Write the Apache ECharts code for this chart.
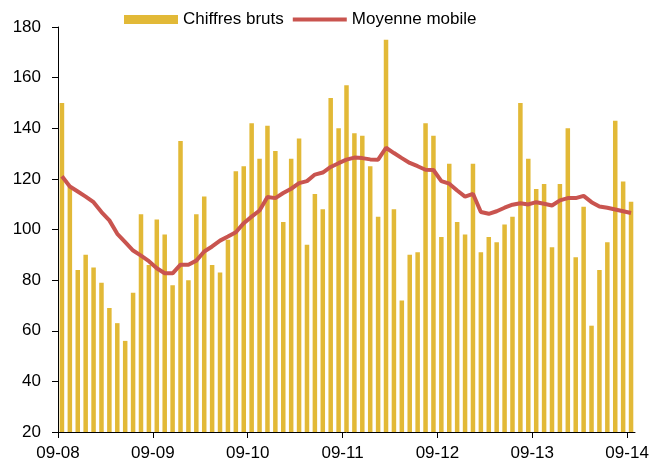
<!DOCTYPE html>
<html>
<head>
<meta charset="utf-8">
<script src="https://cdn.jsdelivr.net/npm/echarts@6/dist/echarts.min.js"></script>
<style>
html,body{margin:0;padding:0;background:#fff;}
#chart{width:657px;height:465px;}
</style>
</head>
<body>
<div id="chart"></div>
<script>
// Monthly raw values, Sept 2008 -> Sept 2014
var rawValues = [150,117,84,90,85,79,69,63,56,75,106,86,
  104,98,78,135,80,106,113,86,83,96,123,125,
  142,128,141,131,103,128,136,94,114,108,152,140,
  157,138,137,125,105,175,108,72,90,91,142,137,
  97,126,103,98,126,91,97,95,102,105,150,128,
  116,118,93,118,140,89,109,62,84,95,143,119,111];
var movingAvg = [121,117,115,113,110.8,106.9,103.6,98.3,95,91.7,89.7,87.5,
  84.7,82.7,82.7,86.1,86.1,87.7,91.3,93.3,95.6,97.2,98.9,102.5,
  105.1,107.5,112.8,112.4,114.4,116.1,118.3,119.1,121.7,122.5,124.7,126.2,
  127.6,128.4,128.2,127.7,127.6,132.3,130.2,128.2,126.3,125,123.6,123.5,
  119.1,118.1,115.4,113,114.1,106.9,106.2,107.2,108.6,109.8,110.4,109.9,
  110.8,110.2,109.5,111.5,112.4,112.4,113.3,110.8,109.1,108.6,107.9,107.2,106.5];
var tickLabels = ['09-08','09-09','09-10','09-11','09-12','09-13','09-14'];
var seriesNames = ['Chiffres bruts','Moyenne mobile'];

var categories = [];
for (var i = 0; i < rawValues.length; i++) {
  var m = (8 + i) % 12 + 1, y = 8 + Math.floor((8 + i) / 12);
  categories.push((m < 10 ? '0' : '') + m + '-' + (y < 10 ? '0' : '') + y);
}
var tickPos = tickLabels.map(function (t, k) { return k * 12; });

var FONT = 'Liberation Sans, Arial, sans-serif';
var BAR = '#E2B937';
var LINE = '#C9544F';

var chart = echarts.init(document.getElementById('chart'), null, {renderer: 'canvas'});
chart.setOption({
  animation: false,
  backgroundColor: '#fff',
  textStyle: {fontFamily: FONT},
  legend: {
    left: 119, top: 6,
    itemWidth: 54, itemHeight: 9, itemGap: 9,
    symbolKeepAspect: true,
    textStyle: {fontSize: 17, color: '#000', fontFamily: FONT},
    data: [
      {name: seriesNames[0], icon: 'rect', itemStyle: {color: BAR}},
      {name: seriesNames[1], icon: 'path://M0 0H54V4H0Z', itemStyle: {color: LINE}}
    ]
  },
  grid: {left: 58, right: 22, top: 27, bottom: 33, containLabel: false},
  xAxis: [
    {
      type: 'category', data: categories, boundaryGap: true,
      axisLine: {lineStyle: {color: '#000', width: 1}},
      axisTick: {show: false}, axisLabel: {show: false}, splitLine: {show: false}
    },
    {
      type: 'value', min: 0, max: rawValues.length, position: 'bottom',
      axisLine: {show: false},
      axisTick: {show: true, length: 6, lineStyle: {color: '#000'}, customValues: tickPos},
      axisLabel: {
        show: true, customValues: tickPos, margin: 13,
        fontSize: 17, color: '#000', fontFamily: FONT,
        formatter: function (v) { return tickLabels[Math.round(v / 12)] || ''; }
      },
      splitLine: {show: false}
    }
  ],
  yAxis: {
    type: 'value', min: 20, max: 180, interval: 20,
    axisLine: {show: true, lineStyle: {color: '#000', width: 1}},
    axisTick: {show: true, length: 6, lineStyle: {color: '#000'}},
    axisLabel: {fontSize: 17, color: '#000', margin: 17, fontFamily: FONT},
    splitLine: {show: false}
  },
  series: [
    {
      name: seriesNames[0], type: 'bar', xAxisIndex: 0, data: rawValues,
      barWidth: '57%', itemStyle: {color: BAR}
    },
    {
      name: seriesNames[1], type: 'line', xAxisIndex: 0, data: movingAvg,
      symbol: 'none', smooth: false,
      lineStyle: {color: LINE, width: 4}, itemStyle: {color: LINE}
    }
  ]
});
</script>
</body>
</html>
